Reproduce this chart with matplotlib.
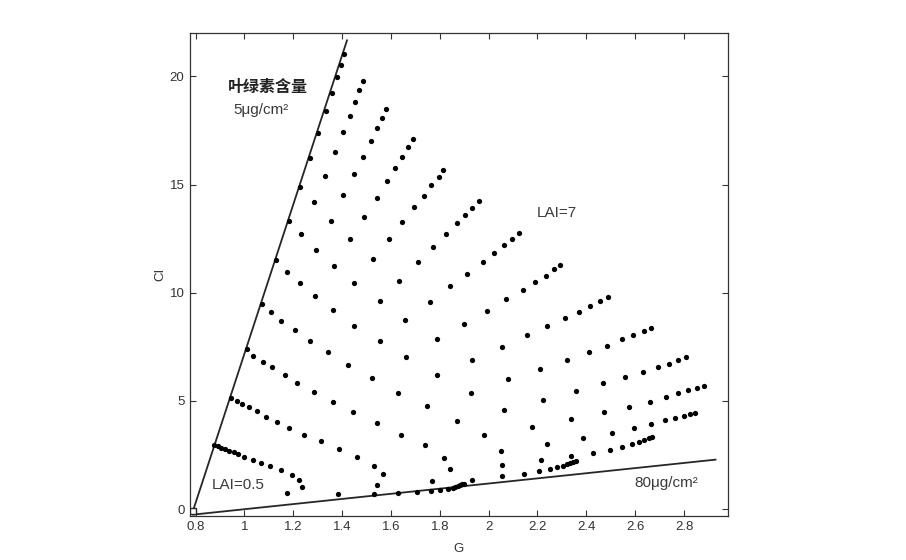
import matplotlib
matplotlib.use("Agg")
import matplotlib.pyplot as plt

# --- 데이터: 엽록소 함량별 (G, CI), LAI 0.5 -> 7 순서 ---
LAI_LEVELS = [0.5, 1, 1.5, 2, 2.5, 3, 3.5, 4, 4.5, 5, 5.5, 6, 6.5, 7]
CHL_LEVELS = [5, 10, 15, 20, 25, 30, 35, 40, 45, 50, 55, 60, 65, 70, 75, 80]

g_chl05 = [0.877, 0.944, 1.010, 1.072, 1.130, 1.183, 1.228, 1.269, 1.301, 1.333, 1.358, 1.378, 1.396, 1.408]
ci_chl05 = [2.97, 5.16, 7.38, 9.50, 11.50, 13.31, 14.88, 16.23, 17.40, 18.40, 19.25, 19.97, 20.54, 21.01]
g_chl10 = [0.891, 0.969, 1.037, 1.109, 1.173, 1.232, 1.285, 1.331, 1.370, 1.404, 1.432, 1.453, 1.471, 1.487]
ci_chl10 = [2.90, 5.01, 7.10, 9.13, 10.97, 12.70, 14.17, 15.39, 16.48, 17.42, 18.17, 18.79, 19.35, 19.78]
g_chl15 = [0.903, 0.989, 1.075, 1.151, 1.227, 1.293, 1.355, 1.404, 1.449, 1.487, 1.517, 1.543, 1.563, 1.580]
ci_chl15 = [2.84, 4.86, 6.82, 8.70, 10.47, 11.97, 13.31, 14.50, 15.49, 16.28, 17.00, 17.62, 18.08, 18.48]
g_chl20 = [0.919, 1.018, 1.113, 1.206, 1.290, 1.366, 1.434, 1.491, 1.543, 1.583, 1.617, 1.647, 1.669, 1.689]
ci_chl20 = [2.78, 4.70, 6.55, 8.28, 9.84, 11.22, 12.47, 13.51, 14.39, 15.16, 15.76, 16.28, 16.74, 17.08]
g_chl25 = [0.937, 1.051, 1.165, 1.269, 1.362, 1.450, 1.525, 1.592, 1.647, 1.693, 1.734, 1.764, 1.796, 1.814]
ci_chl25 = [2.71, 4.52, 6.21, 7.76, 9.19, 10.47, 11.56, 12.50, 13.25, 13.97, 14.48, 14.96, 15.33, 15.66]
g_chl30 = [0.958, 1.089, 1.217, 1.341, 1.449, 1.555, 1.634, 1.711, 1.773, 1.825, 1.870, 1.904, 1.933, 1.959]
ci_chl30 = [2.64, 4.27, 5.83, 7.24, 8.47, 9.62, 10.54, 11.41, 12.13, 12.70, 13.21, 13.59, 13.92, 14.22]
g_chl35 = [0.975, 1.135, 1.285, 1.425, 1.555, 1.659, 1.760, 1.841, 1.913, 1.976, 2.022, 2.064, 2.096, 2.123]
ci_chl35 = [2.55, 4.04, 5.41, 6.67, 7.78, 8.75, 9.56, 10.33, 10.88, 11.41, 11.84, 12.22, 12.50, 12.74]
g_chl40 = [1.000, 1.184, 1.362, 1.521, 1.663, 1.790, 1.899, 1.992, 2.071, 2.139, 2.189, 2.236, 2.267, 2.292]
ci_chl40 = [2.41, 3.75, 4.96, 6.06, 7.01, 7.86, 8.56, 9.17, 9.70, 10.13, 10.50, 10.79, 11.08, 11.28]
g_chl45 = [1.034, 1.244, 1.445, 1.630, 1.790, 1.933, 2.055, 2.156, 2.240, 2.311, 2.371, 2.416, 2.456, 2.490]
ci_chl45 = [2.27, 3.45, 4.49, 5.39, 6.19, 6.90, 7.51, 8.04, 8.47, 8.85, 9.13, 9.41, 9.60, 9.79]
g_chl50 = [1.068, 1.314, 1.542, 1.749, 1.928, 2.080, 2.210, 2.319, 2.412, 2.483, 2.547, 2.593, 2.635, 2.666]
ci_chl50 = [2.12, 3.13, 3.99, 4.75, 5.39, 6.00, 6.47, 6.90, 7.28, 7.56, 7.86, 8.05, 8.25, 8.38]
g_chl55 = [1.105, 1.386, 1.642, 1.869, 2.063, 2.224, 2.358, 2.470, 2.559, 2.634, 2.694, 2.739, 2.776, 2.807]
ci_chl55 = [1.98, 2.80, 3.45, 4.09, 4.59, 5.06, 5.48, 5.82, 6.10, 6.33, 6.57, 6.71, 6.90, 7.01]
g_chl60 = [1.150, 1.462, 1.739, 1.979, 2.176, 2.336, 2.471, 2.576, 2.660, 2.726, 2.776, 2.818, 2.852, 2.882]
ci_chl60 = [1.81, 2.41, 2.95, 3.41, 3.80, 4.18, 4.49, 4.72, 4.97, 5.17, 5.37, 5.49, 5.59, 5.69]
g_chl65 = [1.194, 1.529, 1.818, 2.052, 2.239, 2.386, 2.504, 2.596, 2.665, 2.723, 2.765, 2.798, 2.826, 2.847]
ci_chl65 = [1.56, 1.98, 2.37, 2.70, 3.03, 3.27, 3.50, 3.75, 3.93, 4.11, 4.23, 4.30, 4.41, 4.46]
g_chl70 = [1.225, 1.566, 1.841, 2.053, 2.214, 2.336, 2.429, 2.497, 2.548, 2.587, 2.616, 2.638, 2.656, 2.670]
ci_chl70 = [1.33, 1.63, 1.84, 2.04, 2.29, 2.45, 2.60, 2.75, 2.87, 2.99, 3.09, 3.18, 3.27, 3.34]
g_chl75 = [1.236, 1.542, 1.767, 1.933, 2.053, 2.143, 2.207, 2.252, 2.281, 2.304, 2.321, 2.334, 2.345, 2.356]
ci_chl75 = [1.04, 1.13, 1.29, 1.37, 1.53, 1.61, 1.75, 1.84, 1.94, 2.01, 2.08, 2.14, 2.19, 2.24]
g_chl80 = [1.173, 1.383, 1.529, 1.630, 1.705, 1.764, 1.802, 1.832, 1.852, 1.864, 1.875, 1.884, 1.892, 1.899]
ci_chl80 = [0.75, 0.72, 0.71, 0.75, 0.81, 0.86, 0.90, 0.95, 1.00, 1.04, 1.08, 1.12, 1.15, 1.18]

G_SERIES = [g_chl05, g_chl10, g_chl15, g_chl20, g_chl25, g_chl30, g_chl35, g_chl40,
            g_chl45, g_chl50, g_chl55, g_chl60, g_chl65, g_chl70, g_chl75, g_chl80]
CI_SERIES = [ci_chl05, ci_chl10, ci_chl15, ci_chl20, ci_chl25, ci_chl30, ci_chl35, ci_chl40,
             ci_chl45, ci_chl50, ci_chl55, ci_chl60, ci_chl65, ci_chl70, ci_chl75, ci_chl80]

# 경계선 (5 / 80 ug/cm2) 과 시작점
upper_line_g = [0.790, 1.420]
upper_line_ci = [-0.05, 21.66]
lower_line_g = [0.790, 2.929]
lower_line_ci = [-0.25, 2.29]
soil_point = (0.790, -0.10)

X_TICKS = [0.8, 1.0, 1.2, 1.4, 1.6, 1.8, 2.0, 2.2, 2.4, 2.6, 2.8]
X_TICK_LABELS = ['0.8', '1', '1.2', '1.4', '1.6', '1.8', '2', '2.2', '2.4', '2.6', '2.8']
Y_TICKS = [0, 5, 10, 15, 20]

plt.rcParams['font.family'] = ['Liberation Sans', 'Noto Sans CJK SC', 'DejaVu Sans']

fig = plt.figure(figsize=(9.06, 5.6), dpi=100)
ax = fig.add_axes([0.2097, 0.0791, 0.5938, 0.862])

line_color = '#262626'
ax.plot(upper_line_g, upper_line_ci, color=line_color, lw=1.3, zorder=2)
ax.plot(lower_line_g, lower_line_ci, color=line_color, lw=1.3, zorder=2)
ax.plot([soil_point[0]], [soil_point[1]], marker='s', ms=4.5, mfc='white',
        mec=line_color, mew=1.0, ls='none', zorder=3)

for g_vals, ci_vals in zip(G_SERIES, CI_SERIES):
    ax.plot(g_vals, ci_vals, 'o', color='black', ms=3.8, mew=0, zorder=4)

ax.set_xlim(0.777, 2.98)
ax.set_ylim(-0.3, 22.0)
ax.set_xticks(X_TICKS)
ax.set_xticklabels(X_TICK_LABELS)
ax.set_yticks(Y_TICKS)

ax.tick_params(direction='in', top=True, right=True, length=4, width=0.8,
               labelsize=9.5, colors='#333333', pad=4)
for sp in ax.spines.values():
    sp.set_color('#333333')
    sp.set_linewidth(0.9)

ax.set_xlabel('G', fontsize=9.5, color='#333333', labelpad=7)
ax.set_ylabel('CI', fontsize=9.5, color='#333333', labelpad=2)

txt_color = '#3a3a3a'
ax.text(0.934, 19.51, '叶绿素含量', fontsize=11.5, fontweight='bold', color='#222222',
        va='center', ha='left', family=['Noto Sans CJK SC', 'DejaVu Sans'])
ax.text(0.955, 18.43, '5μg/cm²', fontsize=11, color=txt_color, va='center', ha='left')
ax.text(0.866, 1.13, 'LAI=0.5', fontsize=11, color=txt_color, va='center', ha='left')
ax.text(2.197, 13.68, 'LAI=7', fontsize=11, color=txt_color, va='center', ha='left')
ax.text(2.596, 1.23, '80μg/cm²', fontsize=11, color=txt_color, va='center', ha='left')

fig.savefig('out.png', dpi=100, facecolor='white')
